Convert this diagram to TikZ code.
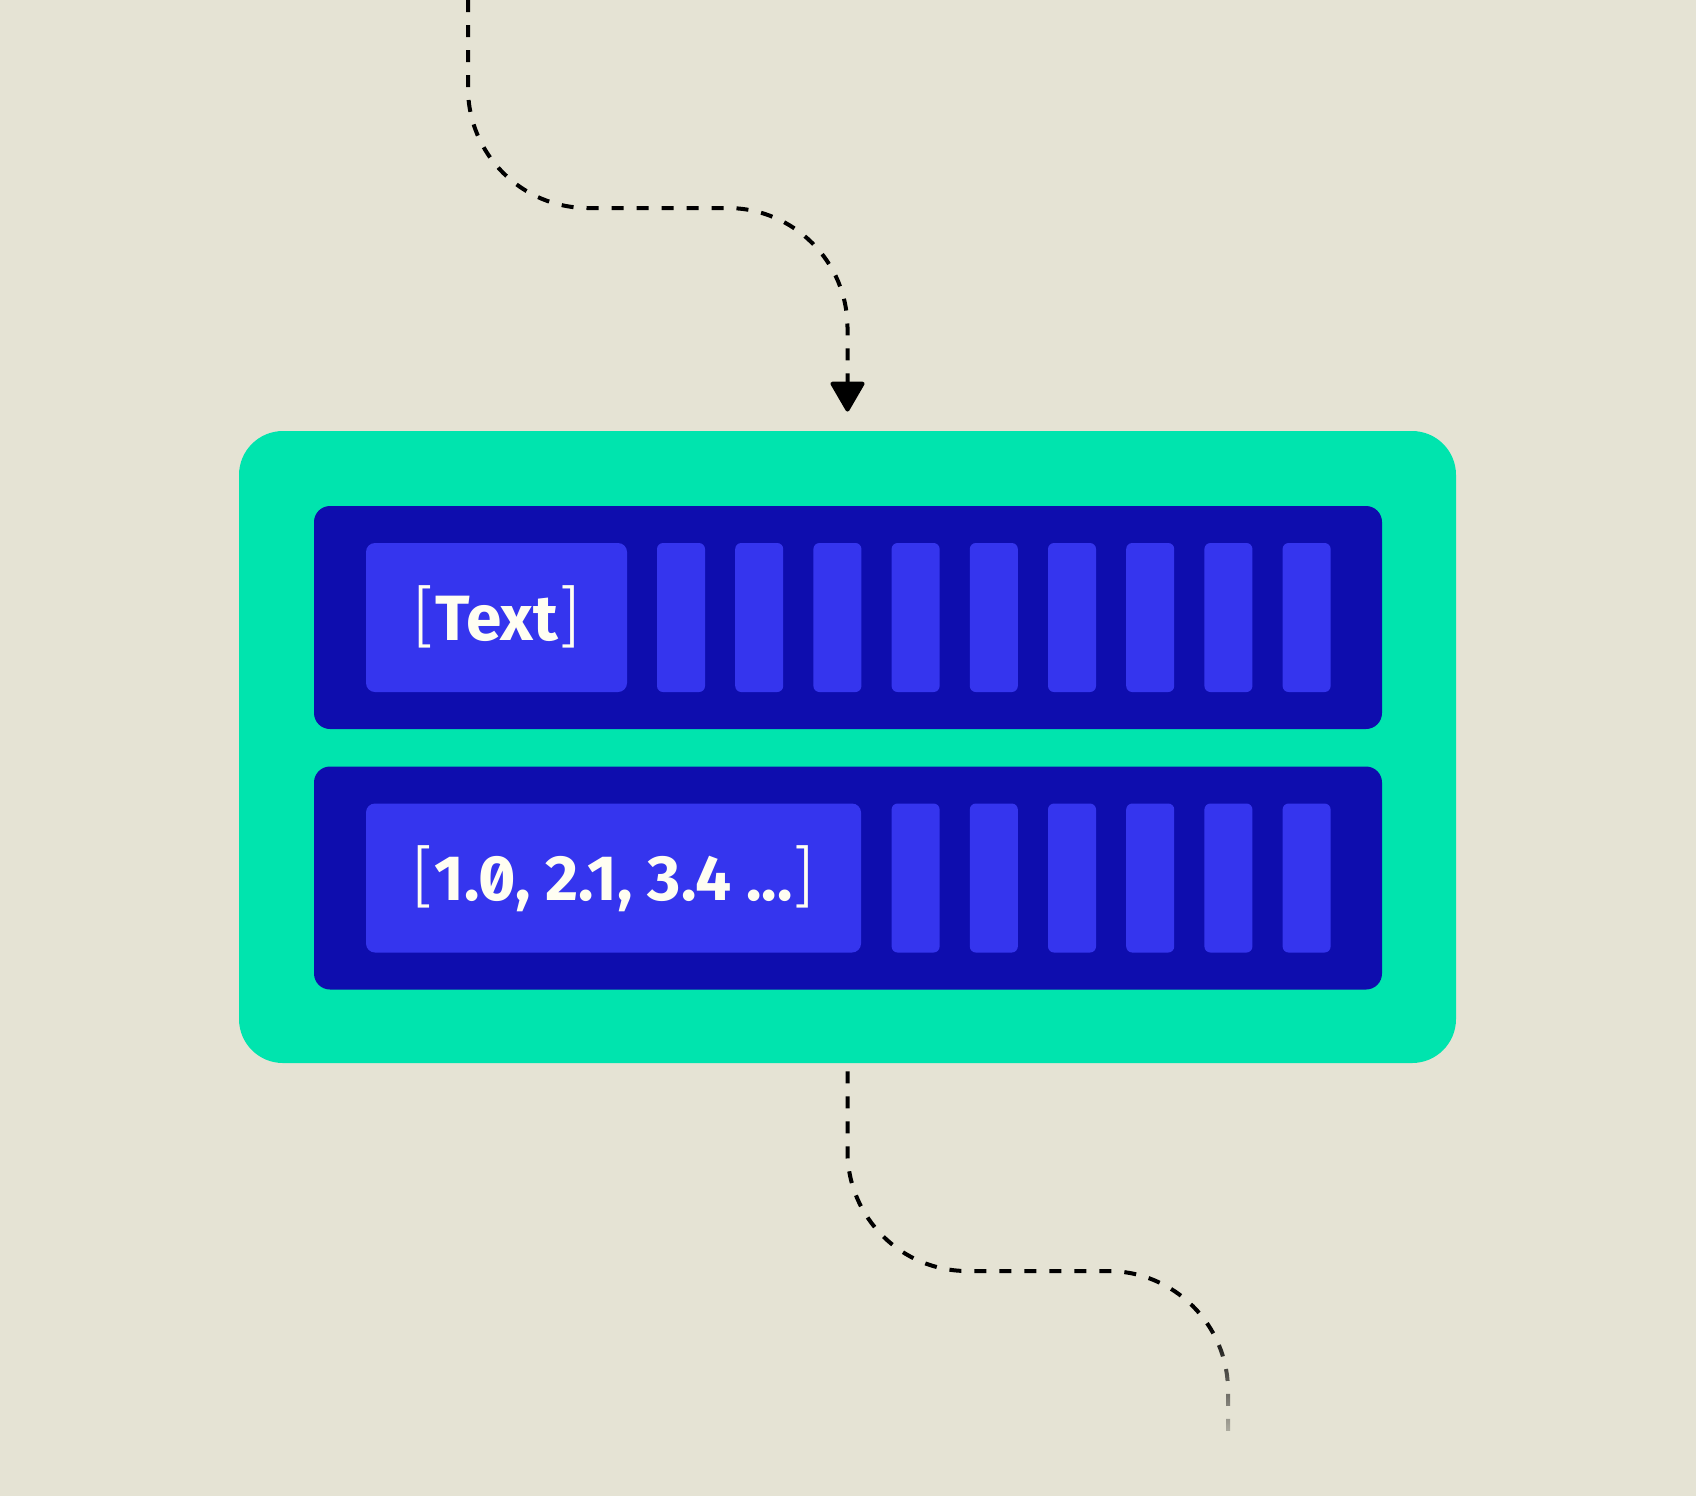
\documentclass[tikz,border=0pt]{standalone}
\usepackage{fontspec}
\setmainfont{Fira Sans}[RawFeature={+zero}]
\newfontfamily\brfont{Fira Sans Light}
\usetikzlibrary{arrows.meta,fadings}
\definecolor{bg}{HTML}{E5E3D4}
\definecolor{mint}{HTML}{00E4AE}
\definecolor{navy}{HTML}{0E0DAE}
\definecolor{royal}{HTML}{3535EE}
\definecolor{ivory}{HTML}{FFFEF2}
\tikzset{
  greenbox/.style={fill=mint, draw=none, inner sep=0pt, rounded corners=22pt,
    minimum width=608.5pt, minimum height=316pt},
  rowbox/.style={fill=navy, draw=none, inner sep=0pt, rounded corners=8pt,
    minimum width=534pt, minimum height=111.5pt},
  cellbox/.style={fill=royal, draw=none, inner sep=0pt, rounded corners=4.5pt,
    minimum height=74.5pt},
  barbox/.style={fill=royal, draw=none, inner sep=0pt, rounded corners=3pt,
    minimum width=24pt, minimum height=74.5pt},
  lbl/.style={text=ivory, inner sep=0pt, font=\fontsize{32}{38}\selectfont\bfseries},
  flow/.style={draw=black, line width=2pt, dash pattern=on 6pt off 6.5pt,
    rounded corners=60pt},
}
\newcommand{\thinbr}[1]{{\brfont\mdseries\fontsize{34}{38}\selectfont #1}}
\begin{document}
\begin{tikzpicture}[x=0.5pt,y=-0.5pt]
\fill[bg] (0,0) rectangle (1696,1496);
\useasboundingbox (0,0) rectangle (1696,1496);

% outer green container
\node[greenbox] (outer) at (847.5,747) {};

% rows
\node[rowbox] (row1) at (848,617.5) {};
\node[rowbox] (row2) at (848,878) {};

% text cells
\node[cellbox, minimum width=130.5pt] (cell1) at (496.5,617.5) {};
\node[cellbox, minimum width=247.5pt] (cell2) at (613.5,878) {};

% bars
\foreach \k in {0,...,8}{
  \node[barbox] (ra\k) at ({681+\k*78.2},617.5) {};
}
\foreach \k in {3,...,8}{
  \node[barbox] (rb\k) at ({681+\k*78.2},878) {};
}

% labels
\node[lbl, anchor=base] (t1) at (496.5,640) {\thinbr{[}Text\thinbr{]}};
\node[lbl, anchor=base] (t2) at (613.5,900) {\thinbr{[}1.0, 2.1, 3.4 ...\thinbr{]}};

% connectors
\coordinate (top) at (468,0);
\coordinate (k1) at (468,208);
\draw[flow, shorten >=9.5pt, -{Triangle[width=18pt,length=16pt,round]}]
  (top) -- (k1) -- (k1 -| outer.north) -- (outer.north);

\coordinate (fin) at (1228,1440);
\coordinate (k2) at (0,1271);
\draw[flow, shorten <=4pt]
  (outer.south) -- (k2 -| outer.south) -- (k2 -| fin) -- (fin);
\fill[bg, path fading=north] (1195,1325) rectangle (1261,1465);
\end{tikzpicture}
\end{document}
